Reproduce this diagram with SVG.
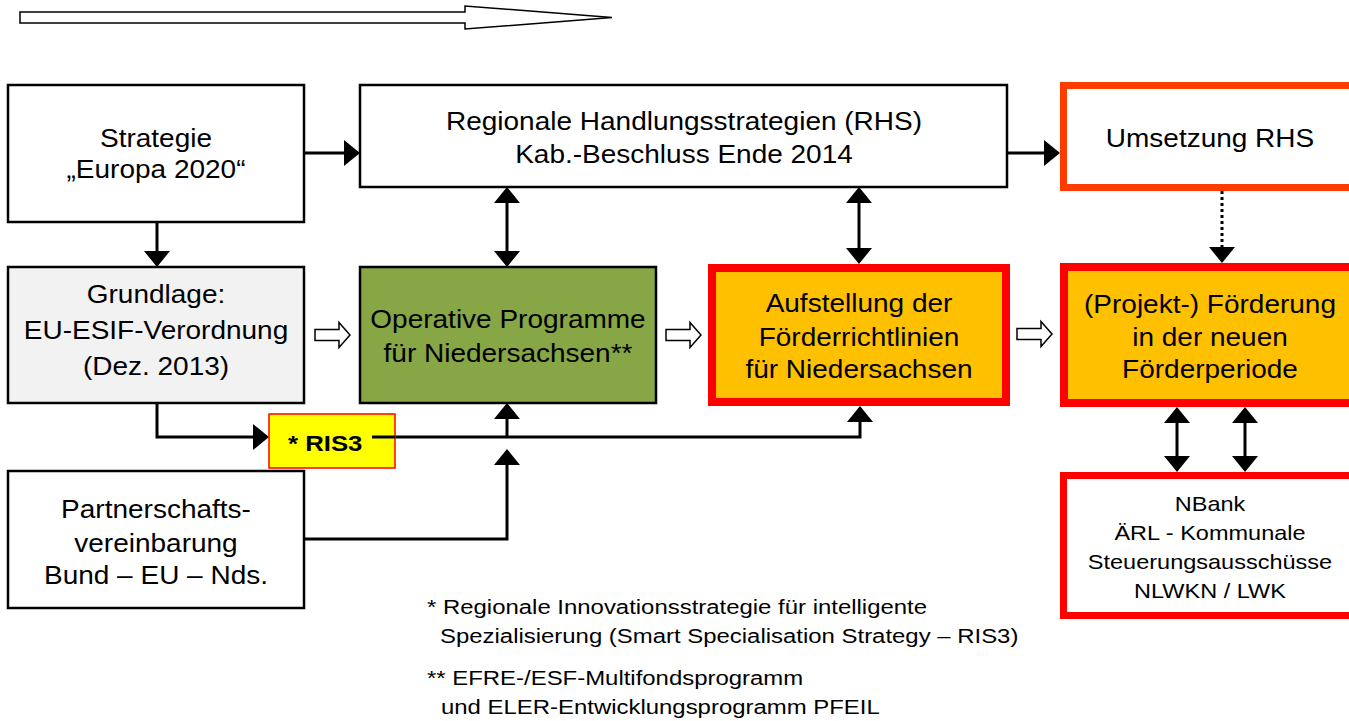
<svg xmlns="http://www.w3.org/2000/svg" width="1349" height="721" viewBox="0 0 1349 721">
<style>
text{font-family:"Liberation Sans",Arial,sans-serif;fill:#000}
.t{font-size:25px;text-anchor:middle}
.s{font-size:21px;text-anchor:middle}
.f{font-size:21px}
.box{stroke:#000;stroke-width:2.5}
.c{fill:none;stroke:#000;stroke-width:3}
.blk{fill:#fff;stroke:#000;stroke-width:1.5}
</style>
<defs>
<marker id="ah" viewBox="0 0 16 26" refX="14" refY="13" markerWidth="16" markerHeight="26" markerUnits="userSpaceOnUse" orient="auto-start-reverse">
<path d="M0,0 L16,13 L0,26 Z" fill="#000"/>
</marker>
<path id="blockarrow" d="M0,-5.5 H24 V-12.5 L35,0 L24,12.5 V5.5 H0 Z"/>
</defs>

<polygon class="blk" stroke-width="2" points="20,12 465,12 465,6 612,17.5 465,29 465,23 20,23"/>

<g id="connectors">
<path class="c" d="M304,153 H358" marker-end="url(#ah)"/>
<path class="c" d="M1007,153 H1058" marker-end="url(#ah)"/>
<path class="c" d="M157,222 V265" marker-end="url(#ah)"/>
<path class="c" d="M507,189 V265" marker-start="url(#ah)" marker-end="url(#ah)"/>
<path class="c" d="M859,189 V262" marker-start="url(#ah)" marker-end="url(#ah)"/>
<path class="c" d="M1222,191 V261" stroke-dasharray="3,3" marker-end="url(#ah)"/>
<path class="c" d="M1177,409 V470" marker-start="url(#ah)" marker-end="url(#ah)"/>
<path class="c" d="M1245,409 V470" marker-start="url(#ah)" marker-end="url(#ah)"/>
<path class="c" d="M157,403 V437 H267" marker-end="url(#ah)"/>
<path class="c" d="M372,437 H860 V408" marker-end="url(#ah)"/>
<path class="c" d="M507,437 V405" marker-end="url(#ah)"/>
<path class="c" d="M304,539 H507 V451" marker-end="url(#ah)"/>
<use href="#blockarrow" class="blk" x="315" y="335"/>
<use href="#blockarrow" class="blk" x="666" y="335"/>
<use href="#blockarrow" class="blk" x="1017" y="334"/>
</g>

<g id="strategie">
<rect class="box" x="8" y="85" width="296" height="137" fill="#fff"/>
<text class="t" transform="matrix(1.12 0 0 1 156 147)">Strategie</text>
<text class="t" transform="matrix(1.12 0 0 1 156 178)">„Europa 2020“</text>
</g>

<g id="rhs">
<rect class="box" x="360" y="85" width="647" height="102" fill="#fff"/>
<text class="t" transform="matrix(1.12 0 0 1 684 130)">Regionale Handlungsstrategien (RHS)</text>
<text class="t" transform="matrix(1.12 0 0 1 684 163)">Kab.-Beschluss Ende 2014</text>
</g>

<g id="umsetzung">
<rect x="1063.5" y="85.5" width="300" height="102" fill="#fff" stroke="#ff3c00" stroke-width="7"/>
<text class="t" transform="matrix(1.12 0 0 1 1210 147)">Umsetzung RHS</text>
</g>

<g id="grundlage">
<rect class="box" x="8" y="267" width="296" height="136" fill="#f2f2f2"/>
<text class="t" transform="matrix(1.12 0 0 1 156 303)">Grundlage:</text>
<text class="t" transform="matrix(1.12 0 0 1 156 339)">EU-ESIF-Verordnung</text>
<text class="t" transform="matrix(1.12 0 0 1 156 375)">(Dez. 2013)</text>
</g>

<g id="operative">
<rect class="box" x="360" y="267" width="296" height="136" fill="#87a645"/>
<text class="t" transform="matrix(1.12 0 0 1 508 328)">Operative Programme</text>
<text class="t" transform="matrix(1.12 0 0 1 508 362)">für Niedersachsen**</text>
</g>

<g id="aufstellung">
<rect x="712" y="268" width="294" height="134" fill="#ffc000" stroke="#ff0000" stroke-width="8"/>
<text class="t" transform="matrix(1.12 0 0 1 859 312)">Aufstellung der</text>
<text class="t" transform="matrix(1.12 0 0 1 859 346)">Förderrichtlinien</text>
<text class="t" transform="matrix(1.12 0 0 1 859 378)">für Niedersachsen</text>
</g>

<g id="projekt">
<rect x="1064" y="267" width="300" height="136" fill="#ffc000" stroke="#ff0000" stroke-width="8"/>
<text class="t" transform="matrix(1.12 0 0 1 1210 313)">(Projekt-) Förderung</text>
<text class="t" transform="matrix(1.12 0 0 1 1210 346)">in der neuen</text>
<text class="t" transform="matrix(1.12 0 0 1 1210 378)">Förderperiode</text>
</g>

<g id="ris3">
<rect x="269" y="414" width="126" height="54" fill="#ffff00" stroke="#ff0000" stroke-width="1.5"/>
<text transform="matrix(1.12 0 0 1 288 451)" font-size="23" font-weight="bold">* RIS3</text>
<path class="c" d="M372,437 H395"/>
</g>

<g id="partnerschaft">
<rect class="box" x="8" y="471" width="296" height="137" fill="#fff"/>
<text class="t" transform="matrix(1.12 0 0 1 156 518)">Partnerschafts-</text>
<text class="t" transform="matrix(1.12 0 0 1 156 552)">vereinbarung</text>
<text class="t" transform="matrix(1.12 0 0 1 156 584)">Bund – EU – Nds.</text>
</g>

<g id="nbank">
<rect x="1063.5" y="475.5" width="300" height="140" fill="#fff" stroke="#ff0000" stroke-width="7"/>
<text class="s" transform="matrix(1.12 0 0 1 1210 511)">NBank</text>
<text class="s" transform="matrix(1.12 0 0 1 1210 540)">ÄRL - Kommunale</text>
<text class="s" transform="matrix(1.12 0 0 1 1210 569)">Steuerungsausschüsse</text>
<text class="s" transform="matrix(1.12 0 0 1 1210 598)">NLWKN / LWK</text>
</g>

<g id="footnotes">
<text class="f" transform="matrix(1.14 0 0 1 427 614)">* Regionale Innovationsstrategie für intelligente</text>
<text class="f" transform="matrix(1.14 0 0 1 440 643)">Spezialisierung (Smart Specialisation Strategy – RIS3)</text>
<text class="f" transform="matrix(1.14 0 0 1 427 685)">** EFRE-/ESF-Multifondsprogramm</text>
<text class="f" transform="matrix(1.14 0 0 1 441 714)">und ELER-Entwicklungsprogramm PFEIL</text>
</g>
</svg>
